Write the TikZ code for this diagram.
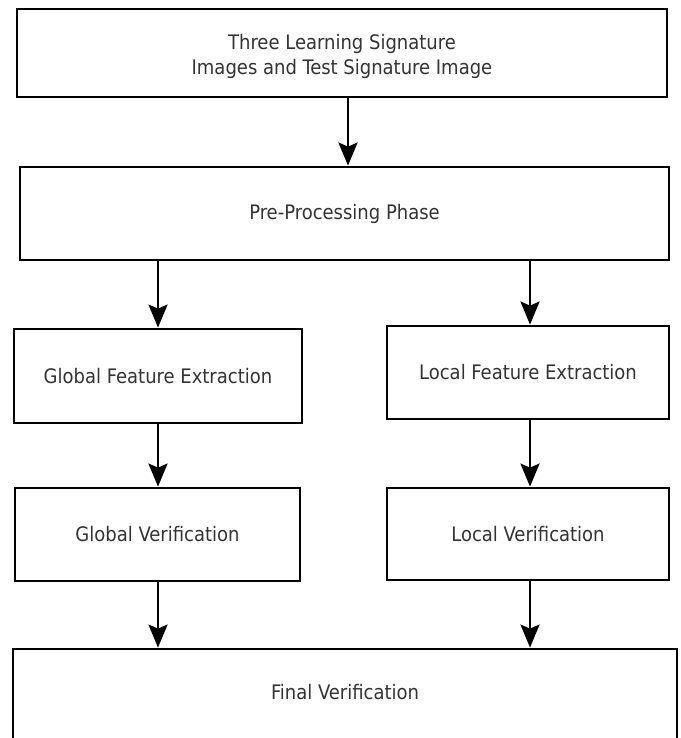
\documentclass[tikz,border=0pt]{standalone}
\usepackage{fontspec}
\setmainfont{DejaVu Sans Condensed}
\usetikzlibrary{arrows.meta}
\definecolor{txt}{HTML}{333333}
\begin{document}
\begin{tikzpicture}[x=1pt,y=-1pt,
  box/.style={draw=black, line width=2.8pt, rectangle, inner sep=0pt, align=center, text=txt, font=\fontsize{20}{25}\selectfont},
  lbl/.style={text=txt, align=center, inner sep=0pt, font=\fontsize{20}{25}\selectfont},
  arr/.style={line width=2.8pt, -{Stealth[length=23pt,width=19pt,inset=4pt]}}]
\useasboundingbox (0,0) rectangle (680,738);
\clip (0,0) rectangle (680,738);
\node[box, minimum width=650pt, minimum height=88pt] (top) at (342,53) {};
\node[lbl] (topt) at (342,56) {Three Learning Signature\\Images and Test Signature Image};
\node[box, minimum width=649pt, minimum height=93pt] (pre) at (344.5,213.5) {Pre-Processing Phase};
\node[box, minimum width=288pt, minimum height=94pt] (gfe) at (158,376) {Global Feature Extraction};
\node[box, minimum width=282pt, minimum height=93pt] (lfe) at (528,372.5) {Local Feature Extraction};
\node[box, minimum width=285pt, minimum height=93pt] (gv) at (157.5,534.5) {Global Verification};
\node[box, minimum width=282pt, minimum height=92pt] (lv) at (528,534) {Local Verification};
\node[box, minimum width=664pt, minimum height=92pt] (fin) at (345,695) {};
\node[lbl] (fint) at (345,692) {Final Verification};
\coordinate (a1) at (348,0);
\draw[arr] (top.south -| a1) -- (pre.north -| a1);
\coordinate (cl) at (158,0);
\coordinate (cr) at (530,0);
\draw[arr] (pre.south -| cl) -- (gfe.north -| cl);
\draw[arr] (pre.south -| cr) -- (lfe.north -| cr);
\draw[arr] (gfe.south -| cl) -- (gv.north -| cl);
\draw[arr] (lfe.south -| cr) -- (lv.north -| cr);
\draw[arr] (gv.south -| cl) -- (fin.north -| cl);
\draw[arr] (lv.south -| cr) -- (fin.north -| cr);
\end{tikzpicture}
\end{document}
